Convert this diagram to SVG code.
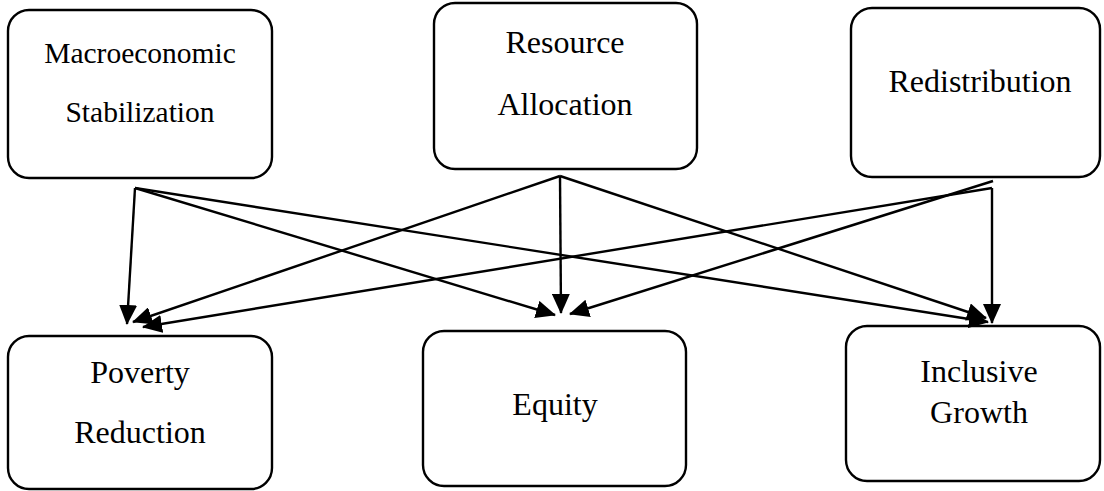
<svg xmlns="http://www.w3.org/2000/svg" width="1104" height="491" viewBox="0 0 1104 491">
<defs>
<style>
.box{fill:#fff;stroke:#000;stroke-width:2.4}
.t{font-family:'Liberation Serif','Times New Roman',Times,serif;font-size:32px;fill:#000;text-anchor:middle}
.s{font-size:29.5px}
.c{stroke:#000;stroke-width:2.4;fill:none}
</style>
<marker id="ah" markerUnits="userSpaceOnUse" viewBox="0 0 20 18" markerWidth="20" markerHeight="18" refX="19" refY="9" orient="auto">
<path d="M0,0 L20,9 L0,18 z" fill="#000"/>
</marker>
</defs>
<rect width="1104" height="491" fill="#fff"/>
<g id="macro">
<rect class="box" x="8" y="10" width="264" height="168" rx="21"/>
<text class="t s" x="140" y="63">Macroeconomic</text>
<text class="t s" x="140" y="122">Stabilization</text>
</g>
<g id="resource">
<rect class="box" x="434" y="3" width="263" height="166" rx="21"/>
<text class="t" x="565" y="53">Resource</text>
<text class="t" x="565" y="115">Allocation</text>
</g>
<g id="redistribution">
<rect class="box" x="851" y="8" width="249" height="169" rx="21"/>
<text class="t" x="980" y="92">Redistribution</text>
</g>
<g id="poverty">
<rect class="box" x="8" y="336" width="264" height="153" rx="21"/>
<text class="t" x="140" y="383">Poverty</text>
<text class="t" x="140" y="443">Reduction</text>
</g>
<g id="equity">
<rect class="box" x="423" y="331" width="263" height="155" rx="21"/>
<text class="t" x="555" y="415">Equity</text>
</g>
<g id="inclusive">
<rect class="box" x="846" y="326" width="254" height="155" rx="21"/>
<text class="t" x="979" y="382">Inclusive</text>
<text class="t" x="979" y="423">Growth</text>
</g>
<g id="connectors">
<line class="c" marker-end="url(#ah)" x1="135" y1="188" x2="127" y2="324"/>
<line class="c" marker-end="url(#ah)" x1="135" y1="188" x2="555" y2="315"/>
<line class="c" marker-end="url(#ah)" x1="135" y1="188" x2="988" y2="322"/>
<line class="c" marker-end="url(#ah)" x1="560" y1="176" x2="133" y2="322"/>
<line class="c" marker-end="url(#ah)" x1="560" y1="176" x2="561" y2="313"/>
<line class="c" marker-end="url(#ah)" x1="560" y1="176" x2="986" y2="318"/>
<line class="c" marker-end="url(#ah)" x1="993" y1="181" x2="570" y2="314"/>
<line class="c" marker-end="url(#ah)" x1="992" y1="188" x2="143" y2="327"/>
<line class="c" marker-end="url(#ah)" x1="992" y1="188" x2="992" y2="323"/>
</g>
</svg>
